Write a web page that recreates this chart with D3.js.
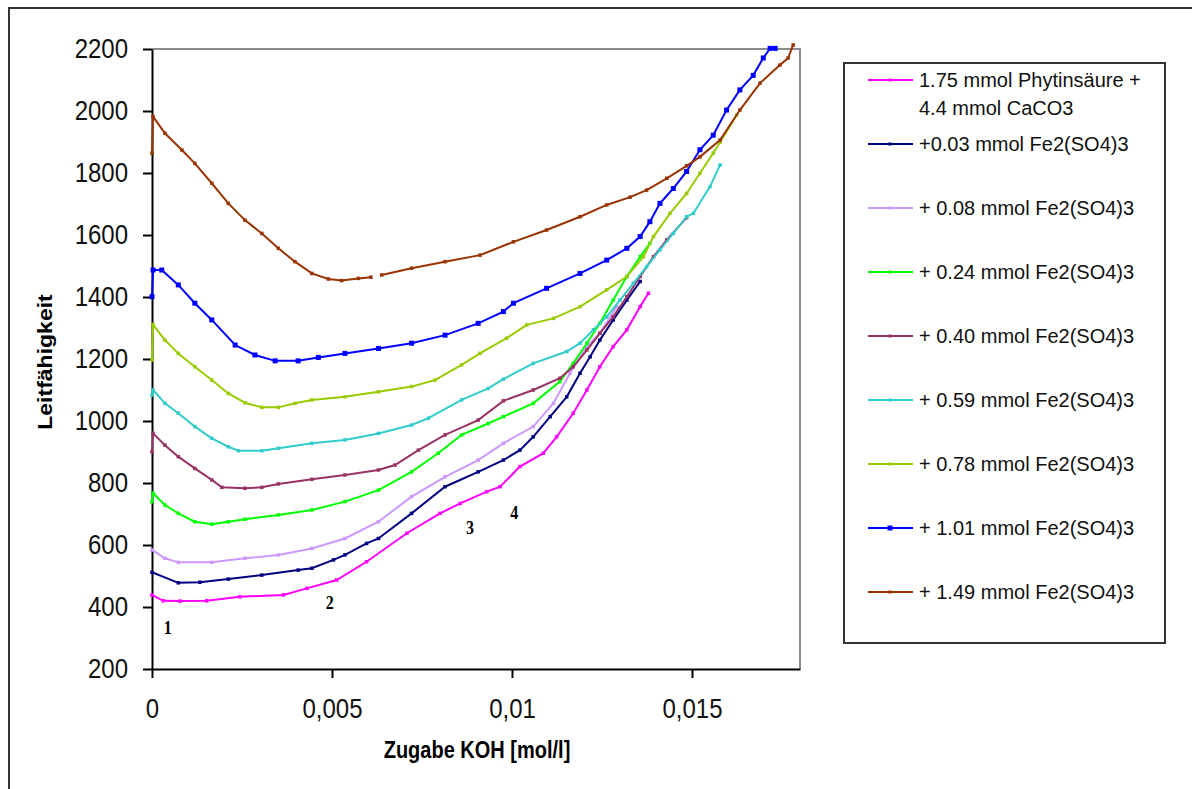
<!DOCTYPE html>
<html>
<head>
<meta charset="utf-8">
<script src="https://cdn.jsdelivr.net/npm/d3@7"></script>
<style>
    body { margin: 0; background: #fff; }
    text { font-family: "Liberation Sans", Arial, sans-serif; }
</style>
</head>
<body>
<script>
'use strict';

// Leitfähigkeit vs. Zugabe KOH [mol/l], one array per titration
var phytin = [[0, 439], [0.00031, 420], [0.00078, 419], [0.00152, 420], [0.00244, 433], [0.00365, 439],
    [0.0043, 460], [0.00513, 487], [0.00596, 546], [0.00708, 638], [0.008, 702], [0.00856, 734],
    [0.0093, 772], [0.00967, 788], [0.01022, 853], [0.01087, 896], [0.01124, 949], [0.0117, 1025],
    [0.01208, 1100], [0.01244, 1175], [0.01281, 1240], [0.01319, 1294], [0.01356, 1369], [0.01379, 1412]];
var fe003 = [[0, 512], [0.00073, 478], [0.00133, 480], [0.00212, 490], [0.00305, 503], [0.00406, 519],
    [0.00444, 525], [0.00504, 552], [0.00536, 568], [0.00596, 605], [0.00629, 621], [0.00721, 702],
    [0.00814, 788], [0.00906, 836], [0.00976, 874], [0.01022, 906], [0.01059, 949], [0.01106, 1014],
    [0.01152, 1078], [0.01189, 1154], [0.01217, 1207], [0.01244, 1261], [0.01281, 1326], [0.01319, 1390],
    [0.01356, 1450]];
var fe008 = [[0, 584], [0.00036, 557], [0.00073, 544], [0.00166, 544], [0.00258, 557], [0.00351, 568],
    [0.00444, 589], [0.00536, 621], [0.00629, 675], [0.00721, 756], [0.00814, 820], [0.00906, 874],
    [0.00976, 928], [0.01059, 982], [0.01115, 1057], [0.01161, 1154], [0.01208, 1240], [0.01244, 1283],
    [0.01291, 1369]];
var fe024 = [[0, 740], [0.00003, 767], [0.00036, 729], [0.00073, 702], [0.00119, 675], [0.00166, 667],
    [0.00212, 675], [0.00258, 683], [0.00351, 697], [0.00444, 713], [0.00536, 740], [0.00629, 777],
    [0.00721, 836], [0.00795, 896], [0.0086, 955], [0.00934, 992], [0.00976, 1014], [0.01059, 1057],
    [0.01133, 1127], [0.0117, 1186], [0.01208, 1251], [0.01244, 1315], [0.01281, 1390], [0.01319, 1466],
    [0.01356, 1530], [0.01383, 1573]];
var fe040 = [[0, 901], [0.00003, 960], [0.00036, 922], [0.00073, 885], [0.00119, 847], [0.00166, 810],
    [0.00194, 786], [0.00258, 783], [0.00305, 786], [0.00351, 797], [0.00444, 812], [0.00536, 826],
    [0.00629, 842], [0.00675, 858], [0.0074, 906], [0.00814, 955], [0.00906, 1003], [0.00976, 1065],
    [0.01059, 1100], [0.01133, 1138], [0.0117, 1175], [0.01208, 1229], [0.01244, 1283], [0.01281, 1336],
    [0.01319, 1401], [0.01356, 1466], [0.01393, 1530], [0.0143, 1584], [0.01485, 1656]];
var fe059 = [[0, 1084], [0.00003, 1100], [0.00036, 1057], [0.00073, 1025], [0.00119, 982], [0.00166, 944],
    [0.00212, 917], [0.0024, 904], [0.00305, 904], [0.00351, 912], [0.00444, 928], [0.00536, 939],
    [0.00629, 960], [0.00721, 987], [0.00768, 1009], [0.0086, 1068], [0.00934, 1105], [0.00976, 1135],
    [0.01059, 1186], [0.01152, 1224], [0.01189, 1251], [0.01226, 1294], [0.01263, 1336], [0.013, 1390],
    [0.01337, 1444], [0.01374, 1498], [0.01411, 1552], [0.01448, 1605], [0.01485, 1659], [0.01504, 1670],
    [0.0155, 1756], [0.01578, 1826]];
var fe078 = [[0, 1197], [0.00003, 1310], [0.00036, 1261], [0.00073, 1218], [0.00119, 1175], [0.00166, 1132],
    [0.00212, 1089], [0.00258, 1059], [0.00305, 1044], [0.00351, 1044], [0.00397, 1057], [0.00444, 1068],
    [0.00536, 1078], [0.00629, 1094], [0.00721, 1111], [0.00786, 1132], [0.0086, 1181], [0.00911, 1218],
    [0.00985, 1267], [0.01041, 1310], [0.01115, 1331], [0.01189, 1369], [0.01263, 1423], [0.01319, 1466],
    [0.01365, 1530], [0.01393, 1595], [0.01439, 1670], [0.01485, 1734], [0.01522, 1799], [0.01559, 1864],
    [0.01578, 1899], [0.01624, 1987]];
var fe101 = [[0, 1401], [0.00003, 1487], [0.00027, 1487], [0.00073, 1439], [0.00119, 1380], [0.00166, 1326],
    [0.00231, 1245], [0.00286, 1213], [0.00342, 1194], [0.00406, 1194], [0.00462, 1205], [0.00536, 1218],
    [0.00629, 1234], [0.00721, 1251], [0.00814, 1277], [0.00906, 1315], [0.00976, 1353], [0.01004, 1380],
    [0.01096, 1428], [0.01189, 1476], [0.01263, 1519], [0.01319, 1557], [0.01356, 1595], [0.01383, 1643],
    [0.01411, 1702], [0.01448, 1750], [0.01485, 1805], [0.01522, 1875], [0.01559, 1922], [0.01596, 2003],
    [0.01633, 2068], [0.0167, 2115], [0.01698, 2171], [0.01717, 2202], [0.01731, 2202]];
var fe149 = [[0, 1864], [0.00003, 1982], [0.00036, 1928], [0.00083, 1874], [0.00119, 1831], [0.00166, 1767],
    [0.00212, 1702], [0.00258, 1648], [0.00305, 1605], [0.00351, 1557], [0.00397, 1514], [0.00444, 1476],
    [0.0049, 1458], [0.00527, 1453], [0.00573, 1460], [0.00608, 1464], null, [0.00638, 1471], [0.00721, 1493],
    [0.00814, 1514], [0.00911, 1535], [0.01004, 1578], [0.01096, 1616], [0.01189, 1659], [0.01263, 1697],
    [0.01328, 1722], [0.01374, 1745], [0.0143, 1783], [0.01485, 1823], [0.01522, 1852], [0.01578, 1906],
    [0.01633, 2003], [0.01689, 2090], [0.01744, 2148], [0.01767, 2171], [0.01781, 2213]];

var seriesData = [phytin, fe003, fe008, fe024, fe040, fe059, fe078, fe101, fe149];
var seriesNames = [
    ['1.75 mmol Phytinsäure +', '4.4 mmol CaCO3'],
    ['+0.03 mmol Fe2(SO4)3'],
    ['+ 0.08 mmol Fe2(SO4)3'],
    ['+ 0.24 mmol Fe2(SO4)3'],
    ['+ 0.40 mmol Fe2(SO4)3'],
    ['+ 0.59 mmol Fe2(SO4)3'],
    ['+ 0.78 mmol Fe2(SO4)3'],
    ['+ 1.01 mmol Fe2(SO4)3'],
    ['+ 1.49 mmol Fe2(SO4)3']
];
var seriesColors = ['#ff00ff', '#000080', '#cc99ff', '#00ff00', '#993366', '#33cccc', '#99cc00', '#0000ff', '#993300'];
var xTicks = [0, 0.005, 0.01, 0.015];
var yTicks = [200, 400, 600, 800, 1000, 1200, 1400, 1600, 1800, 2000, 2200];
var pointLabels = ['1', '2', '3', '4'];
var pointLabelAt = [[0.00044, 332], [0.00494, 413], [0.00883, 655], [0.01006, 703]];

var width = 1192;
var height = 789;
var stretch = 1.13;   // the source picture is a bit taller than wide

var svg = d3.select('body')
    .append('svg')
    .attr('width', width)
    .attr('height', height)
    ;

svg.append('rect')
    .attr('width', width)
    .attr('height', height)
    .attr('fill', '#fff')
    ;

// outer chart frame, runs off the right and bottom of the picture
svg.append('rect')
    .attr('x', 9)
    .attr('y', 8)
    .attr('width', width + 20)
    .attr('height', height + 20)
    .attr('fill', 'none')
    .attr('stroke', '#333')
    .attr('stroke-width', 2)
    ;

var x = d3.scaleLinear().domain([0, 0.018]).range([152, 800]);
var y = d3.scaleLinear().domain([200, 2200]).range([669, 49]);

// plot frame (top and right in grey)
svg.append('path')
    .attr('d', 'M' + x(0) + ',' + y(2200) + 'H' + x(0.018) + 'V' + y(200))
    .attr('fill', 'none')
    .attr('stroke', '#8c8c8c')
    .attr('stroke-width', 2)
    ;

var yAxis = svg.append('g')
    .attr('transform', 'translate(' + x(0) + ',0)')
    .call(d3.axisLeft(y).tickValues(yTicks).tickSize(9).tickSizeOuter(0).tickPadding(15)
        .tickFormat(function (d) { return String(d); }))
    ;

var xAxis = svg.append('g')
    .attr('transform', 'translate(0,' + y(200) + ')')
    .call(d3.axisBottom(x).tickValues(xTicks).tickSize(9).tickSizeOuter(0).tickPadding(17)
        .tickFormat(function (d) { return String(d).replace('.', ','); }))
    ;

[yAxis, xAxis].forEach(function (g) {
    g.select('.domain').attr('stroke', '#000').attr('stroke-width', 2);
    g.selectAll('.tick line').attr('stroke', '#000').attr('stroke-width', 2);
    g.selectAll('.tick text')
        .attr('fill', '#111')
        .style('font-size', '24px')
        .style('font-family', '"Liberation Sans", Arial, sans-serif')
        .attr('transform', 'scale(1,' + stretch + ')')
        ;
});

// axis titles
svg.append('text')
    .text('Zugabe KOH [mol/l]')
    .attr('text-anchor', 'middle')
    .attr('font-weight', 'bold')
    .style('font-size', '20px')
    .attr('transform', 'translate(477,758) scale(1,1.15)')
    ;

svg.append('text')
    .text('Leitfähigkeit')
    .attr('text-anchor', 'middle')
    .attr('font-weight', 'bold')
    .style('font-size', '20px')
    .attr('transform', 'translate(52,362) rotate(-90) scale(1.15,1)')
    ;

// curves
var line = d3.line()
    .defined(function (d) { return d !== null; })
    .x(function (d) { return x(d[0]); })
    .y(function (d) { return y(d[1]); })
    ;

var series = svg.selectAll('g.series')
    .data(seriesData)
    .enter()
    .append('g')
    .attr('class', 'series')
    ;

series.append('path')
    .attr('d', line)
    .attr('fill', 'none')
    .attr('stroke', function (d, i) { return seriesColors[i]; })
    .attr('stroke-width', 2)
    ;

series.each(function (d, i) {
    var s = i === 7 ? 5 : 3.5;
    d3.select(this).selectAll('rect')
        .data(d.filter(function (p) { return p !== null; }))
        .enter()
        .append('rect')
        .attr('x', function (p) { return x(p[0]) - s / 2; })
        .attr('y', function (p) { return y(p[1]) - s / 2; })
        .attr('width', s)
        .attr('height', s)
        .attr('fill', seriesColors[i])
        ;
});

// little point numbers
svg.selectAll('text.num')
    .data(pointLabels)
    .enter()
    .append('text')
    .attr('class', 'num')
    .text(function (d) { return d; })
    .attr('text-anchor', 'middle')
    .attr('font-weight', 'bold')
    .style('font-family', '"Liberation Serif", "Times New Roman", serif')
    .style('font-size', '16px')
    .attr('transform', function (d, i) {
        var p = pointLabelAt[i];
        return 'translate(' + x(p[0]) + ',' + (y(p[1]) + 6) + ') scale(1,1.15)';
    })
    ;

// legend
var legend = svg.append('g');

legend.append('rect')
    .attr('x', 844)
    .attr('y', 63)
    .attr('width', 321)
    .attr('height', 580)
    .attr('fill', '#fff')
    .attr('stroke', '#333')
    .attr('stroke-width', 2)
    ;

var rowY = function (i) { return 80 + 64 * i; };

var items = legend.selectAll('g.item')
    .data(seriesNames)
    .enter()
    .append('g')
    .attr('class', 'item')
    .attr('transform', function (d, i) { return 'translate(0,' + rowY(i) + ')'; })
    ;

items.append('line')
    .attr('x1', 868)
    .attr('x2', 913)
    .attr('stroke', function (d, i) { return seriesColors[i]; })
    .attr('stroke-width', 2)
    ;

items.append('rect')
    .attr('x', function (d, i) { return i === 7 ? 887.5 : 888.5; })
    .attr('y', function (d, i) { return i === 7 ? -2.5 : -1.5; })
    .attr('width', function (d, i) { return i === 7 ? 5 : 3; })
    .attr('height', function (d, i) { return i === 7 ? 5 : 3; })
    .attr('fill', function (d, i) { return seriesColors[i]; })
    ;

items.each(function (d) {
    var t = d3.select(this).append('text')
        .attr('x', 919)
        .attr('y', 7)
        .attr('fill', '#111')
        .style('font-size', '20px')
        ;
    t.selectAll('tspan')
        .data(d)
        .enter()
        .append('tspan')
        .attr('x', 919)
        .attr('dy', function (s, j) { return j === 0 ? 0 : 28; })
        .text(function (s) { return s; })
        ;
});
</script>
</body>
</html>
